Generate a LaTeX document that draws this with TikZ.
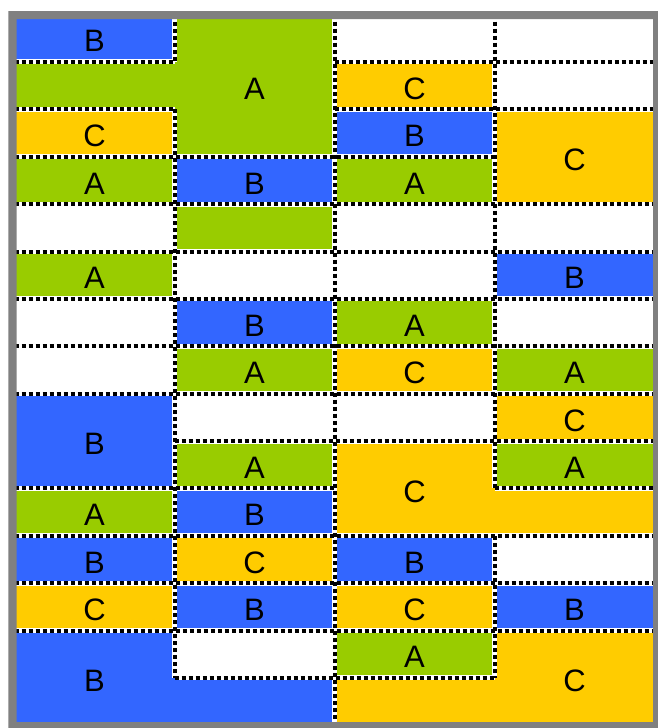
\documentclass[tikz,border=0pt]{standalone}
\usepackage{fontspec}
\setmainfont{Liberation Sans}
\definecolor{cb}{HTML}{3366FF}
\definecolor{cg}{HTML}{99CC00}
\definecolor{co}{HTML}{FFCC00}
\definecolor{framegray}{HTML}{808080}
\tikzset{
  lab/.style={font=\fontsize{31}{31}\selectfont, inner sep=0pt, yshift=-3pt},
  dotwhite/.style={draw=white, line width=5pt},
  dotblack/.style={draw=black, line width=4pt, dash pattern=on 4pt off 3pt}
}
\begin{document}
\begin{tikzpicture}[x=1pt,y=-1pt]
\useasboundingbox (0,0) rectangle (657,728);
\begin{scope}[shift={(14.5,14.6)}, x=160pt, y=-47.38pt]
% blue regions
\fill[cb] (0,0) rectangle (1,1);
\fill[cb] (1,3) rectangle (2,4);
\fill[cb] (1,6) rectangle (2,7);
\fill[cb] (0,8) rectangle (1,10);
\fill[cb] (1,10) rectangle (2,11);
\fill[cb] (0,11) rectangle (1,12);
\fill[cb] (2,11) rectangle (3,12);
\fill[cb] (1,12) rectangle (2,13);
\fill[cb] (3,12) rectangle (4,13);
\fill[cb] (2,2) rectangle (3,3);
\fill[cb] (3,5) rectangle (4,6);
\fill[cb] (0,13) -- (1,13) -- (1,14) -- (2,14) -- (2,15) -- (0,15) -- cycle;
% green regions
\fill[cg] (0,1) -- (1,1) -- (1,0) -- (2,0) -- (2,3) -- (1,3) -- (1,2) -- (0,2) -- cycle;
\fill[cg] (0,3) rectangle (1,4);
\fill[cg] (0,5) rectangle (1,6);
\fill[cg] (0,10) rectangle (1,11);
\fill[cg] (1,4) rectangle (2,5);
\fill[cg] (1,7) rectangle (2,8);
\fill[cg] (1,9) rectangle (2,10);
\fill[cg] (2,3) rectangle (3,4);
\fill[cg] (2,6) rectangle (3,7);
\fill[cg] (2,13) rectangle (3,14);
\fill[cg] (3,7) rectangle (4,8);
\fill[cg] (3,9) rectangle (4,10);
% orange regions
\fill[co] (0,2) rectangle (1,3);
\fill[co] (0,12) rectangle (1,13);
\fill[co] (1,11) rectangle (2,12);
\fill[co] (2,1) rectangle (3,2);
\fill[co] (2,7) rectangle (3,8);
\fill[co] (2,12) rectangle (3,13);
\fill[co] (3,2) rectangle (4,4);
\fill[co] (3,8) rectangle (4,9);
\fill[co] (2,9) -- (3,9) -- (3,10) -- (4,10) -- (4,11) -- (2,11) -- cycle;
\fill[co] (3,13) -- (4,13) -- (4,15) -- (2,15) -- (2,14) -- (3,14) -- cycle;
% dotted borders: white underlay
\path[dotwhite]
  (0,1) -- (1,1) (2,1) -- (4,1)
  (0,2) -- (1,2) (2,2) -- (4,2)
  (0,3) -- (3,3)
  (0,4) -- (4,4) (0,5) -- (4,5) (0,6) -- (4,6) (0,7) -- (4,7) (0,8) -- (4,8)
  (1,9) -- (4,9)
  (0,10) -- (2,10) (3,10) -- (4,10)
  (0,11) -- (4,11) (0,12) -- (4,12) (0,13) -- (4,13)
  (1,14) -- (3,14)
  (1,0) -- (1,1) (1,2) -- (1,14)
  (2,0) -- (2,15)
  (3,0) -- (3,10) (3,11) -- (3,14);
% dotted borders: black dashes
\path[dotblack]
  (0,1) -- (1,1) (2,1) -- (4,1)
  (0,2) -- (1,2) (2,2) -- (4,2)
  (0,3) -- (3,3)
  (0,4) -- (4,4) (0,5) -- (4,5) (0,6) -- (4,6) (0,7) -- (4,7) (0,8) -- (4,8)
  (1,9) -- (4,9)
  (0,10) -- (2,10) (3,10) -- (4,10)
  (0,11) -- (4,11) (0,12) -- (4,12) (0,13) -- (4,13)
  (1,14) -- (3,14)
  (1,0) -- (1,1) (1,2) -- (1,14)
  (2,0) -- (2,15)
  (3,0) -- (3,10) (3,11) -- (3,14);
% labels column 1
\node[lab] (l1a) at (0.5,0.5) {B};
\node[lab] (l1b) at (0.5,2.5) {C};
\node[lab] (l1c) at (0.5,3.5) {A};
\node[lab] (l1d) at (0.5,5.5) {A};
\node[lab] (l1e) at (0.5,9) {B};
\node[lab] (l1f) at (0.5,10.5) {A};
\node[lab] (l1g) at (0.5,11.5) {B};
\node[lab] (l1h) at (0.5,12.5) {C};
\node[lab] (l1i) at (0.5,14) {B};
% labels column 2
\node[lab] (l2a) at (1.5,1.5) {A};
\node[lab] (l2b) at (1.5,3.5) {B};
\node[lab] (l2c) at (1.5,6.5) {B};
\node[lab] (l2d) at (1.5,7.5) {A};
\node[lab] (l2e) at (1.5,9.5) {A};
\node[lab] (l2f) at (1.5,10.5) {B};
\node[lab] (l2g) at (1.5,11.5) {C};
\node[lab] (l2h) at (1.5,12.5) {B};
% labels column 3
\node[lab] (l3a) at (2.5,1.5) {C};
\node[lab] (l3b) at (2.5,2.5) {B};
\node[lab] (l3c) at (2.5,3.5) {A};
\node[lab] (l3d) at (2.5,6.5) {A};
\node[lab] (l3e) at (2.5,7.5) {C};
\node[lab] (l3f) at (2.5,10) {C};
\node[lab] (l3g) at (2.5,11.5) {B};
\node[lab] (l3h) at (2.5,12.5) {C};
\node[lab] (l3i) at (2.5,13.5) {A};
% labels column 4
\node[lab] (l4a) at (3.5,3) {C};
\node[lab] (l4b) at (3.5,5.5) {B};
\node[lab] (l4c) at (3.5,7.5) {A};
\node[lab] (l4d) at (3.5,8.5) {C};
\node[lab] (l4e) at (3.5,9.5) {A};
\node[lab] (l4f) at (3.5,12.5) {B};
\node[lab] (l4g) at (3.5,14) {C};
\end{scope}
% gray frame
\fill[framegray, even odd rule] (8.3,11) rectangle (667,738) (16.7,19) rectangle (653,722);
\end{tikzpicture}
\end{document}
